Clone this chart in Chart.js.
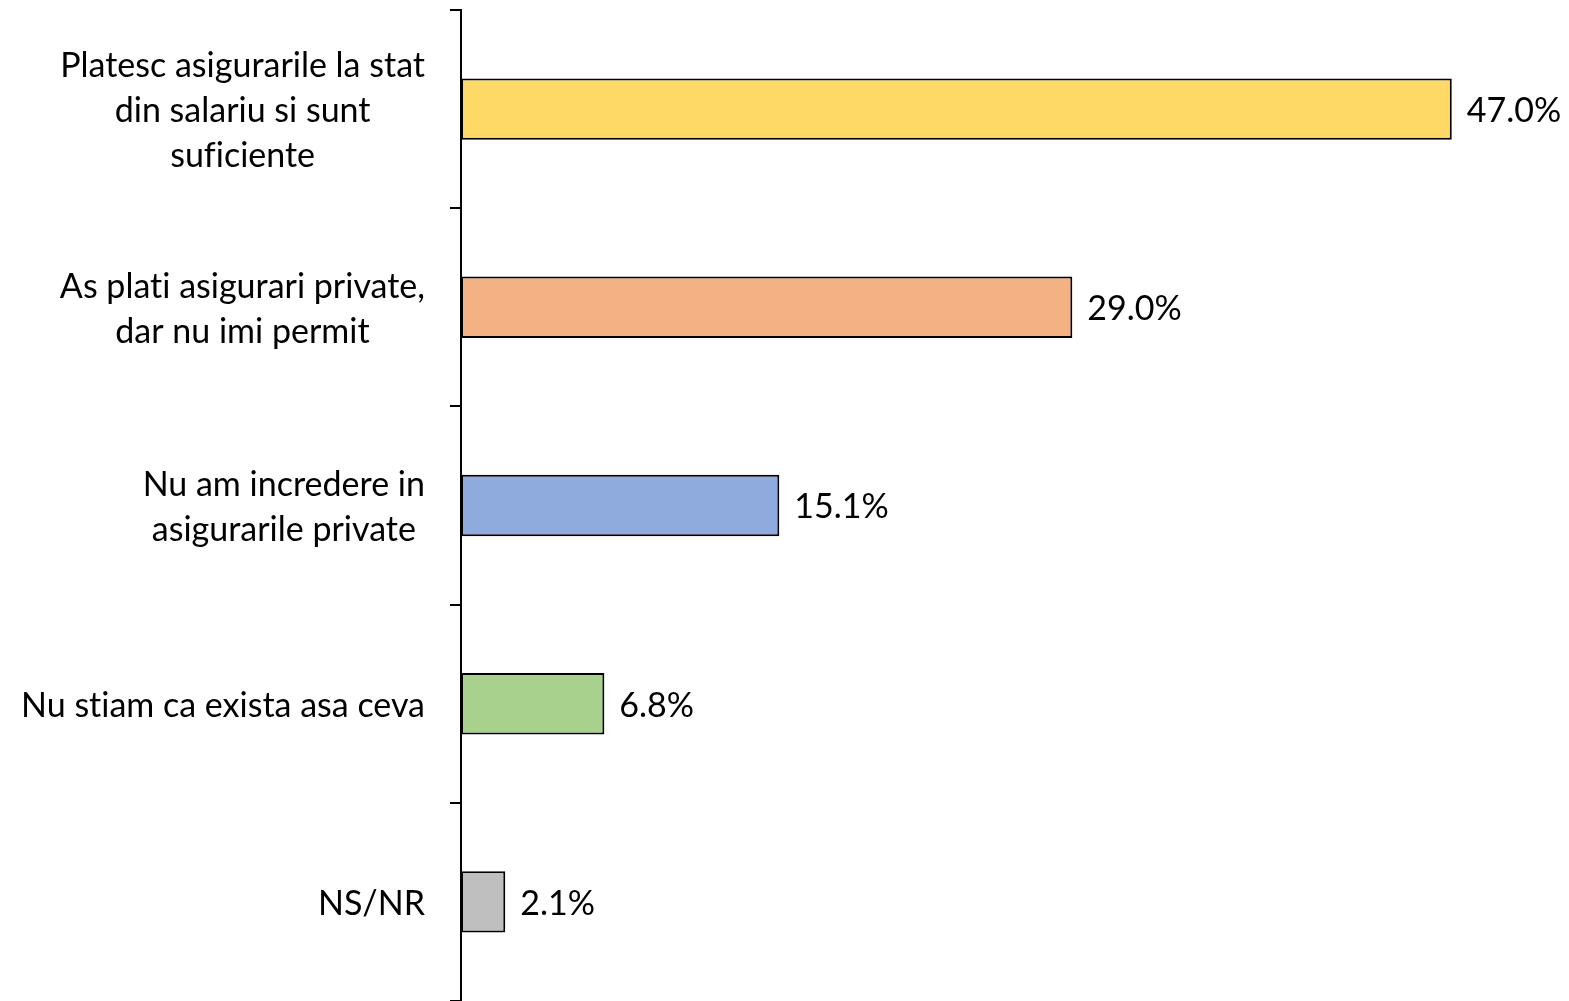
<!DOCTYPE html>
<html>
<head>
<meta charset="utf-8">
<script src="https://cdn.jsdelivr.net/npm/chart.js@4"></script>
<style>
    body { margin: 0; background: #fff; }
    #wrap { width: 1569px; height: 1001px; }
</style>
</head>
<body>
<div id="wrap"><canvas id="barChart"></canvas></div>
<script>
// categories (each label split into the lines shown on the chart)
const categories = [
    ['Platesc asigurarile la stat', 'din salariu si sunt', 'suficiente'],
    ['As plati asigurari private,', 'dar nu imi permit'],
    ['Nu am incredere in', 'asigurarile private'],
    ['Nu stiam ca exista asa ceva'],
    ['NS/NR']
];
const values = [47.0, 29.0, 15.1, 6.8, 2.1];
const barColors = ['#FFD966', '#F4B183', '#8FAADC', '#A9D18E', '#BFBFBF'];

const FONT = '34px Lato';
const LINE_H = 45;

// Lato joins "fi" / "ti" into ligatures, the original font does not
const noLig = s => s.replace(/([ft])(?=i)/g, '$1\u200C');

// draws the category labels (lines centred inside a right-aligned block) and the value labels
const labelPlugin = {
    id: 'labelPlugin',
    afterDraw(chart) {
        const ctx = chart.ctx;
        const yScale = chart.scales.y;
        ctx.save();
        ctx.font = FONT;
        ctx.fillStyle = '#000';
        ctx.textBaseline = 'middle';
        ctx.textAlign = 'center';
        const right = yScale.right - 36;
        categories.forEach((lines, i) => {
            const y = yScale.getPixelForValue(i) + 2;
            const txt = lines.map(noLig);
            const w = Math.max(...txt.map(l => ctx.measureText(l).width));
            const cx = right - w / 2;
            const y0 = y - (txt.length - 1) * LINE_H / 2;
            txt.forEach((l, j) => ctx.fillText(l, cx, y0 + j * LINE_H));
        });

        ctx.textAlign = 'left';
        const meta = chart.getDatasetMeta(0);
        meta.data.forEach((bar, i) => {
            ctx.fillText(values[i].toFixed(1) + '%', bar.x + 15, bar.y + 2);
        });
        ctx.restore();
    }
};

new Chart(document.getElementById('barChart'), {
    type: 'bar',
    data: {
        labels: categories,
        datasets: [{
            data: values,
            backgroundColor: barColors,
            borderColor: '#000',
            borderWidth: 2,
            borderSkipped: false,
            barPercentage: 0.31,
            categoryPercentage: 1
        }]
    },
    options: {
        indexAxis: 'y',
        responsive: true,
        maintainAspectRatio: false,
        animation: false,
        layout: { padding: { top: 10, right: 54, left: 0, bottom: 0 } },
        plugins: {
            legend: { display: false },
            tooltip: { enabled: false }
        },
        scales: {
            x: {
                display: false,
                min: 0,
                max: 50
            },
            y: {
                ticks: { display: false },
                grid: {
                    offset: true,
                    drawOnChartArea: false,
                    drawTicks: true,
                    tickLength: 11,
                    color: '#000',
                    lineWidth: 2
                },
                border: { display: true, color: '#000', width: 2 },
                afterFit(scale) { scale.width = 461; }
            }
        }
    },
    plugins: [labelPlugin]
});
</script>
</body>
</html>
